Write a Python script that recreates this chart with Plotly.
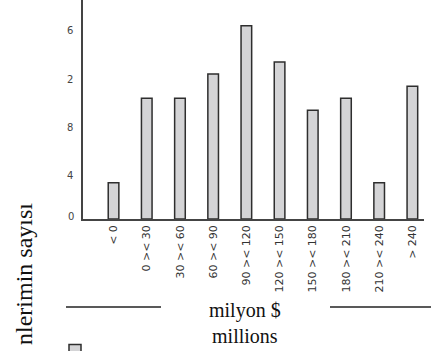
import plotly.graph_objects as go

categories = ["< 0", "0 >< 30", "30 >< 60", "60 >< 90", "90 >< 120",
              "120 >< 150", "150 >< 180", "180 >< 210", "210 >< 240", "> 240"]
counts = [3, 10, 10, 12, 16, 13, 9, 10, 3, 11]
y_tickvals = [4, 8, 12, 16]
y_ticktext = ["4", "8", "2", "6"]
y_zero_label = "0"
y_title = "nlerimin sayısı"
x_title = "milyon $<br>millions"

W, H = 431, 351
L, R, T, B = 83, 7, 0, 132
PH = H - T - B

def py(pix):
    return (H - B - pix) / PH

def px(pix):
    return (pix - L) / (W - L - R)

fig = go.Figure()
fig.add_trace(go.Bar(
    x=categories, y=counts, name="",
    marker=dict(color="#d4d4d6", line=dict(color="#2e2e2e", width=1.5)),
    showlegend=True, hoverinfo="skip",
))

fig.update_layout(
    width=W, height=H,
    margin=dict(l=L, r=R, t=T, b=B, pad=0, autoexpand=False),
    paper_bgcolor="white", plot_bgcolor="white",
    bargap=0.68,
    font=dict(family="DejaVu Sans", size=10, color="#444"),
    legend=dict(x=px(55), y=py(336), xanchor="left", yanchor="top",
                bgcolor="rgba(0,0,0,0)", font=dict(size=1)),
    xaxis=dict(
        range=[-0.92, 9.35], showline=True, linecolor="#444", linewidth=1.5,
        showgrid=False, zeroline=False, ticks="", tickangle=-90, automargin=False,
        tickfont=dict(family="DejaVu Sans", size=11, color="#333"),
    ),
    yaxis=dict(
        range=[0, 18.13], showline=True, linecolor="#444", linewidth=1.5,
        showgrid=False, zeroline=False, ticks="", automargin=False,
        tickvals=y_tickvals, ticktext=y_ticktext, ticklabelshift=5,
        ticklabelstandoff=6,
        tickfont=dict(family="DejaVu Sans", size=10, color="#444"),
    ),
    shapes=[
        dict(type="line", xref="paper", yref="paper", x0=px(66), x1=px(161),
             y0=py(307), y1=py(307), line=dict(color="#222", width=1.5)),
        dict(type="line", xref="paper", yref="paper", x0=px(330), x1=px(431),
             y0=py(307), y1=py(307), line=dict(color="#222", width=1.5)),
    ],
    annotations=[
        dict(text=y_zero_label, xref="paper", yref="y", x=px(70.5), y=0,
             yshift=3, showarrow=False, xanchor="center", yanchor="middle",
             font=dict(family="DejaVu Sans", size=10, color="#444")),
        dict(text=x_title, xref="paper", yref="paper", x=px(245), y=py(323),
             showarrow=False, xanchor="center", yanchor="middle",
             font=dict(family="Liberation Serif", size=20, color="#111")),
        dict(text=y_title, xref="paper", yref="paper", x=px(24), y=py(274),
             showarrow=False, textangle=-90, xanchor="center", yanchor="middle",
             font=dict(family="Liberation Serif", size=24, color="#111")),
    ],
)

fig.write_html("out.html", config={"displayModeBar": False},
               post_script="document.body.style.margin='0';document.body.style.overflow='hidden';")
